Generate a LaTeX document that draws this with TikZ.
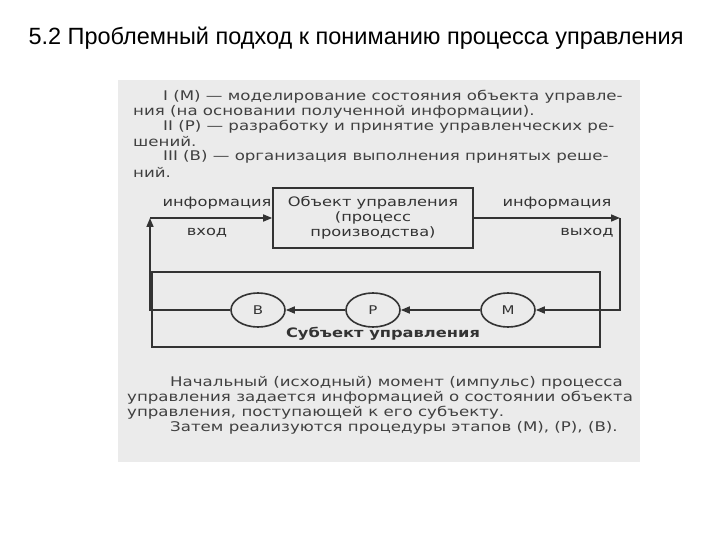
\documentclass[tikz,border=0pt]{standalone}
\usepackage{fontspec}
\setmainfont{DejaVu Sans}[FakeStretch=1.25]
\newfontfamily\titlefont{Liberation Sans}
\usetikzlibrary{arrows.meta,shapes.geometric}
\begin{document}
\begin{tikzpicture}[x=1pt,y=-1pt,
  ln/.style={anchor=west,inner sep=0pt,font=\fontsize{13.3}{14}\selectfont,text=black!75},
  lbl/.style={inner sep=0pt,font=\fontsize{13}{14}\selectfont,text=black!80},
  wire/.style={line width=1.6pt,draw=black!80},
  arr/.style={wire,-{Triangle[length=9pt,width=7pt]}},
  circ/.style={ellipse,draw=black!80,line width=1.6pt,minimum width=54pt,minimum height=34pt,inner sep=0pt,font=\fontsize{12}{14}\selectfont,text=black!80}]
\useasboundingbox (0,0) rectangle (720,540);
\fill[white] (0,0) rectangle (720,540);
\node[anchor=center,inner sep=0pt,font=\titlefont\fontsize{23.5}{26}\selectfont] (title) at (356,38) {5.2 Проблемный подход к пониманию процесса управления};
\fill[black!8] (118,80) rectangle (640,462);
% top text
\node[ln] (t1) at (163,97) {I (М) — моделирование состояния объекта управле-};
\node[ln] (t2) at (133,112) {ния (на основании полученной информации).};
\node[ln] (t3) at (163,127) {II (Р) — разработку и принятие управленческих ре-};
\node[ln] (t4) at (133,142) {шений.};
\node[ln] (t5) at (163,157) {III (В) — организация выполнения принятых реше-};
\node[ln] (t6) at (133,172) {ний.};
% object box
\node[draw=black!80,line width=1.6pt,minimum width=200pt,minimum height=60pt,align=center,font=\fontsize{13}{15}\selectfont,text=black!80] (obj) at (373,218) {Объект управления\\(процесс\\производства)};
\node[draw=black!80,line width=1.6pt,minimum width=448pt,minimum height=75pt] (subj) at (376,309.5) {};
\node[lbl,font=\bfseries\fontsize{13}{14}\selectfont] (subjl) at (383,334) {Субъект управления};
\node[circ] (B) at (258,310) {В};
\node[circ] (P) at (373,310) {Р};
\node[circ] (M) at (508,310) {М};
\coordinate (lt) at (150,218);
\coordinate (lb) at (150,310);
\coordinate (rt) at (620,218);
\coordinate (rb) at (620,310);
\draw[arr] (lt) -- (obj.west);
\draw[arr] (B.west) -- (lb) -- (lt);
\draw[arr] (obj.east) -- (rt);
\draw[arr] (rt) -- (rb) -- (M.east);
\draw[arr] (M.west) -- (P.east);
\draw[arr] (P.west) -- (B.east);
\node[lbl] (i1) at (217,203) {информация};
\node[lbl] (v1) at (207,233) {вход};
\node[lbl] (i2) at (557,203) {информация};
\node[lbl] (v2) at (587,233) {выход};
% bottom text
\node[ln] (b1) at (170,383) {Начальный (исходный) момент (импульс) процесса};
\node[ln] (b2) at (127,398) {управления задается информацией о состоянии объекта};
\node[ln] (b3) at (127,413) {управления, поступающей к его субъекту.};
\node[ln] (b4) at (170,428) {Затем реализуются процедуры этапов (М), (Р), (В).};
\end{tikzpicture}
\end{document}
